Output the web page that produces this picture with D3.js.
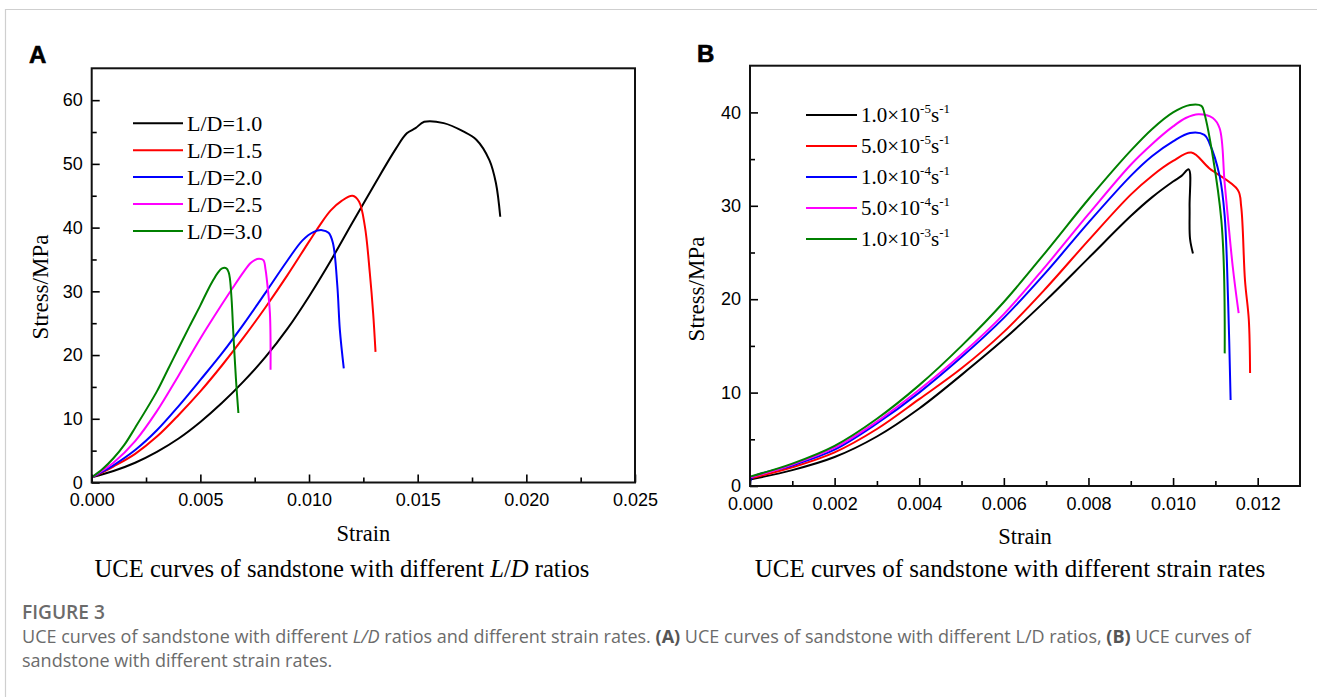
<!DOCTYPE html>
<html>
<head>
<meta charset="utf-8">
<script src="https://cdn.jsdelivr.net/npm/d3@7"></script>
<style>
  body { margin: 0; background: #fff; }
  svg { display: block; }
</style>
</head>
<body>
<svg id="fig" width="1317" height="697"></svg>
<script>
// ---- Panel A: UCE stress-strain curves for different L/D ratios ----
const ldLabels = ["L/D=1.0", "L/D=1.5", "L/D=2.0", "L/D=2.5", "L/D=3.0"];

const ld10 = [[0,0.8],[0.001,1.8],[0.002,3.1],[0.003,4.8],[0.004,6.9],[0.005,9.5],[0.006,12.5],
  [0.007,15.9],[0.008,19.7],[0.009,24.1],[0.010,29.2],[0.011,34.8],[0.012,40.8],[0.013,46.7],
  [0.014,52.4],[0.0145,54.8],[0.0149,55.6],[0.0153,56.6],[0.0162,56.4],[0.0171,55.1],
  [0.0177,53.8],[0.0183,50.6],[0.0186,47.0],[0.0188,41.7]];
const ld15 = [[0,0.8],[0.0005,1.6],[0.001,2.5],[0.002,4.5],[0.003,7.2],[0.004,10.6],[0.005,14.3],
  [0.006,18.4],[0.007,22.8],[0.008,27.5],[0.009,32.5],[0.010,37.8],[0.0105,40.4],[0.011,42.7],
  [0.0115,44.2],[0.0120,45.0],[0.0123,44.1],[0.01257,40.2],[0.0128,32.8],[0.01295,26.6],[0.01306,20.5]];
const ld20 = [[0,0.8],[0.0005,1.7],[0.001,2.7],[0.002,5.1],[0.003,8.2],[0.004,12.0],[0.005,16.1],
  [0.006,20.3],[0.007,24.9],[0.008,29.8],[0.009,34.8],[0.0097,38.0],[0.0102,39.3],[0.0106,39.6],
  [0.0109,39.2],[0.0111,37.6],[0.0113,31.0],[0.01142,23.9],[0.0116,17.9]];
const ld25 = [[0,0.8],[0.0005,1.9],[0.001,3.1],[0.002,6.5],[0.003,11.2],[0.004,16.8],[0.005,22.6],
  [0.006,28.0],[0.0065,30.6],[0.007,33.1],[0.0073,34.4],[0.0075,34.9],[0.0077,35.1],[0.0079,34.9],
  [0.008,33.4],[0.00806,31.8],[0.0082,26.6],[0.00823,17.7]];
const ld30 = [[0,0.8],[0.0005,2.1],[0.001,3.8],[0.0015,5.9],[0.002,8.6],[0.003,14.3],[0.0035,17.7],
  [0.004,21.1],[0.0045,24.5],[0.005,27.8],[0.0053,29.9],[0.0056,31.8],[0.0058,32.9],[0.006,33.6],
  [0.0062,33.6],[0.0063,33.0],[0.00636,32.0],[0.00644,28.6],[0.00651,23.9],[0.00664,16.1],[0.00675,10.9]];

const aXTicks = [0, 0.005, 0.010, 0.015, 0.020, 0.025];
const aXMinor = [0.0025, 0.0075, 0.0125, 0.0175, 0.0225];
const aYTicks = [0, 10, 20, 30, 40, 50, 60];
const aYMinor = [5, 15, 25, 35, 45, 55];

// ---- Panel B: UCE stress-strain curves for different strain rates ----
const rateMantissa = ["1.0", "5.0", "1.0", "5.0", "1.0"];
const rateExponent = ["-5", "-5", "-4", "-4", "-3"];

const r1e5 = [[0,0.7],[0.001,1.7],[0.002,3.1],[0.003,5.3],[0.004,8.3],[0.005,11.9],[0.006,15.7],
  [0.007,19.9],[0.008,24.4],[0.009,28.9],[0.0095,30.9],[0.010,32.6],[0.0102,33.2],[0.01037,33.9],
  [0.01039,29.9],[0.0104,26.5],[0.01047,24.9]];
const r5e5 = [[0,0.8],[0.001,2.0],[0.002,3.6],[0.003,6.1],[0.004,9.3],[0.005,12.6],[0.006,16.5],
  [0.007,21.2],[0.008,26.3],[0.009,31.2],[0.0095,33.2],[0.010,34.8],[0.01043,35.7],[0.01086,34.0],
  [0.01153,31.7],[0.01161,29.9],[0.0117,22.0],[0.01179,17.8],[0.01182,12.1]];
const r1e4 = [[0,0.1],[0.00005,0.9],[0.001,2.2],[0.002,3.9],[0.003,6.7],[0.004,10.0],[0.005,13.8],
  [0.006,18.0],[0.007,22.9],[0.008,28.2],[0.009,33.2],[0.0095,35.3],[0.010,36.9],[0.0104,37.8],
  [0.01074,37.6],[0.01086,36.7],[0.0111,33.2],[0.01122,28.9],[0.0113,19.9],[0.01136,9.2]];
const r5e4 = [[0,0.9],[0.001,2.3],[0.002,4.1],[0.003,6.9],[0.004,10.3],[0.005,14.1],[0.006,18.4],
  [0.007,23.6],[0.008,29.1],[0.009,34.4],[0.0095,36.6],[0.010,38.5],[0.0103,39.4],[0.0106,39.8],
  [0.01094,39.4],[0.0111,38.3],[0.01122,32.4],[0.01141,23.5],[0.01155,18.5]];
const r1e3 = [[0,1.0],[0.001,2.4],[0.002,4.3],[0.003,7.2],[0.004,10.8],[0.005,15.0],[0.006,19.7],
  [0.007,25.1],[0.008,30.7],[0.009,35.9],[0.0095,38.2],[0.010,40.0],[0.0104,40.8],[0.01067,40.7],
  [0.01074,39.9],[0.01114,28.5],[0.01122,14.2]];

const bXTicks = [0, 0.002, 0.004, 0.006, 0.008, 0.010, 0.012];
const bXMinor = [0.001, 0.003, 0.005, 0.007, 0.009, 0.011];
const bYTicks = [0, 10, 20, 30, 40];
const bYMinor = [5, 15, 25, 35];

const seriesColors = ["#000000", "#ff0000", "#0000ff", "#ff00ff", "#008000"];

const svg = d3.select("#fig");
const SERIF = "'Liberation Serif', 'Times New Roman', serif";
const SANS = "'Liberation Sans', Arial, sans-serif";

// page frame
svg.append("path")
  .attr("d", "M5.5,697 V9.5 H1317")
  .attr("fill", "none").attr("stroke", "#cfcfcf").attr("stroke-width", 1.2);

function drawPanel(o) {
  const g = svg.append("g");
  const x = d3.scaleLinear().domain(o.xDomain).range([o.left, o.right]);
  const y = d3.scaleLinear().domain(o.yDomain).range([o.bottom, o.top]);

  const line = d3.line()
    .x(d => x(d[0])).y(d => y(d[1]))
    .curve(d3.curveCatmullRom.alpha(0.5));

  o.series.forEach((s, i) => {
    g.append("path")
      .attr("d", line(s))
      .attr("fill", "none")
      .attr("stroke", seriesColors[i])
      .attr("stroke-width", 2)
      .attr("stroke-linejoin", "round");
  });

  function styleAxis(sel) {
    sel.select(".domain").remove();
    sel.selectAll(".tick line").attr("stroke", "#000").attr("stroke-width", 1.6);
    sel.selectAll(".tick text")
      .attr("font-family", SANS).attr("font-size", 18).attr("fill", "#000");
  }

  const xAxis = g.append("g").attr("transform", `translate(0,${o.bottom})`)
    .call(d3.axisBottom(x).tickValues(o.xTicks).tickFormat(d3.format(".3f"))
      .tickSize(-8).tickPadding(11));
  styleAxis(xAxis);
  const xMinor = g.append("g").attr("transform", `translate(0,${o.bottom})`)
    .call(d3.axisBottom(x).tickValues(o.xMinor).tickFormat("").tickSize(-5));
  styleAxis(xMinor);

  const yAxis = g.append("g").attr("transform", `translate(${o.left},0)`)
    .call(d3.axisLeft(y).tickValues(o.yTicks).tickFormat(d3.format("d"))
      .tickSize(-8).tickPadding(9));
  styleAxis(yAxis);
  const yMinor = g.append("g").attr("transform", `translate(${o.left},0)`)
    .call(d3.axisLeft(y).tickValues(o.yMinor).tickFormat("").tickSize(-5));
  styleAxis(yMinor);

  // plot frame
  g.append("rect")
    .attr("x", o.left).attr("y", o.top)
    .attr("width", o.right - o.left).attr("height", o.bottom - o.top)
    .attr("fill", "none").attr("stroke", "#111").attr("stroke-width", 2);

  // axis titles
  g.append("text")
    .attr("x", (o.left + o.right) / 2).attr("y", o.bottom + 58)
    .attr("text-anchor", "middle")
    .attr("font-family", SERIF).attr("font-size", 22.5)
    .text("Strain");
  g.append("text")
    .attr("transform", `translate(${o.yTitleX},${o.yTitleY}) rotate(-90)`)
    .attr("text-anchor", "middle")
    .attr("font-family", SERIF).attr("font-size", 23)
    .text("Stress/MPa");

  // panel letter
  g.append("text")
    .attr("x", o.letterX).attr("y", o.letterY)
    .attr("font-family", SANS).attr("font-weight", "bold").attr("font-size", 24)
    .attr("stroke", "#000").attr("stroke-width", 0.6)
    .text(o.letter);

  return { g, x, y };
}

const A = drawPanel({
  left: 91.7, right: 635, top: 68.3, bottom: 482.5,
  xDomain: [0, 0.025], yDomain: [0, 65],
  xTicks: aXTicks, xMinor: aXMinor, yTicks: aYTicks, yMinor: aYMinor,
  series: [ld10, ld15, ld20, ld25, ld30],
  yTitleX: 48, yTitleY: 287, letter: "A", letterX: 29, letterY: 63
});

const B = drawPanel({
  left: 750, right: 1300, top: 65.7, bottom: 486,
  xDomain: [0, 0.013], yDomain: [0, 45],
  xTicks: bXTicks, xMinor: bXMinor, yTicks: bYTicks, yMinor: bYMinor,
  series: [r1e5, r5e5, r1e4, r5e4, r1e3],
  yTitleX: 704, yTitleY: 289, letter: "B", letterX: 697, letterY: 62
});

// legend, panel A
ldLabels.forEach((lab, i) => {
  const ly = 123.3 + i * 26.9;
  A.g.append("line").attr("x1", 133).attr("x2", 183).attr("y1", ly).attr("y2", ly)
    .attr("stroke", seriesColors[i]).attr("stroke-width", 2);
  A.g.append("text").attr("x", 187).attr("y", ly + 8)
    .attr("font-family", SERIF).attr("font-size", 22).text(lab);
});

// legend, panel B
rateMantissa.forEach((m, i) => {
  const ly = 115 + i * 31;
  B.g.append("line").attr("x1", 806).attr("x2", 857).attr("y1", ly).attr("y2", ly)
    .attr("stroke", seriesColors[i]).attr("stroke-width", 2);
  const t = B.g.append("text").attr("x", 861).attr("y", ly + 7)
    .attr("font-family", SERIF).attr("font-size", 21);
  t.append("tspan").text(m + "\u00d710");
  t.append("tspan").attr("font-size", 13).attr("dy", -9).text(rateExponent[i]);
  t.append("tspan").attr("dy", 9).text("s");
  t.append("tspan").attr("font-size", 13).attr("dy", -9).text("-1");
});

// fit a text element to a given width by scaling its font size
function fitWidth(sel, width) {
  const len = sel.node().getComputedTextLength();
  const fs = parseFloat(sel.attr("font-size"));
  sel.attr("font-size", fs * width / len);
}

// panel sub-captions
const capA = svg.append("text").attr("x", 342).attr("y", 577)
  .attr("text-anchor", "middle").attr("font-family", SERIF).attr("font-size", 22);
capA.append("tspan").text("UCE curves of sandstone with different ");
capA.append("tspan").attr("font-style", "italic").text("L");
capA.append("tspan").text("/");
capA.append("tspan").attr("font-style", "italic").text("D");
capA.append("tspan").text(" ratios");
fitWidth(capA, 495);

const capB = svg.append("text").attr("x", 1010).attr("y", 577)
  .attr("text-anchor", "middle").attr("font-family", SERIF).attr("font-size", 22)
  .text("UCE curves of sandstone with different strain rates");
fitWidth(capB, 511);

// figure caption
const OPEN = "'Open Sans', 'Noto Sans', sans-serif";
const figLab = svg.append("text").attr("x", 22).attr("y", 619)
  .attr("font-family", OPEN).attr("font-size", 16).attr("font-weight", 600)
  .attr("fill", "#6b6b6b").text("FIGURE 3");
fitWidth(figLab, 83);

const line1 = svg.append("text").attr("x", 22).attr("y", 643)
  .attr("font-family", OPEN).attr("font-size", 15.5).attr("fill", "#6b6b6b");
line1.append("tspan").text("UCE curves of sandstone with different ");
line1.append("tspan").attr("font-style", "italic").text("L/D");
line1.append("tspan").text(" ratios and different strain rates. ");
line1.append("tspan").attr("font-weight", 700).attr("fill", "#555").text("(A)");
line1.append("tspan").text(" UCE curves of sandstone with different L/D ratios, ");
line1.append("tspan").attr("font-weight", 700).attr("fill", "#555").text("(B)");
line1.append("tspan").text(" UCE curves of");
fitWidth(line1, 1230);

svg.append("text").attr("x", 22).attr("y", 667)
  .attr("font-family", OPEN).attr("font-size", line1.attr("font-size")).attr("fill", "#6b6b6b")
  .text("sandstone with different strain rates.");
</script>
</body>
</html>
